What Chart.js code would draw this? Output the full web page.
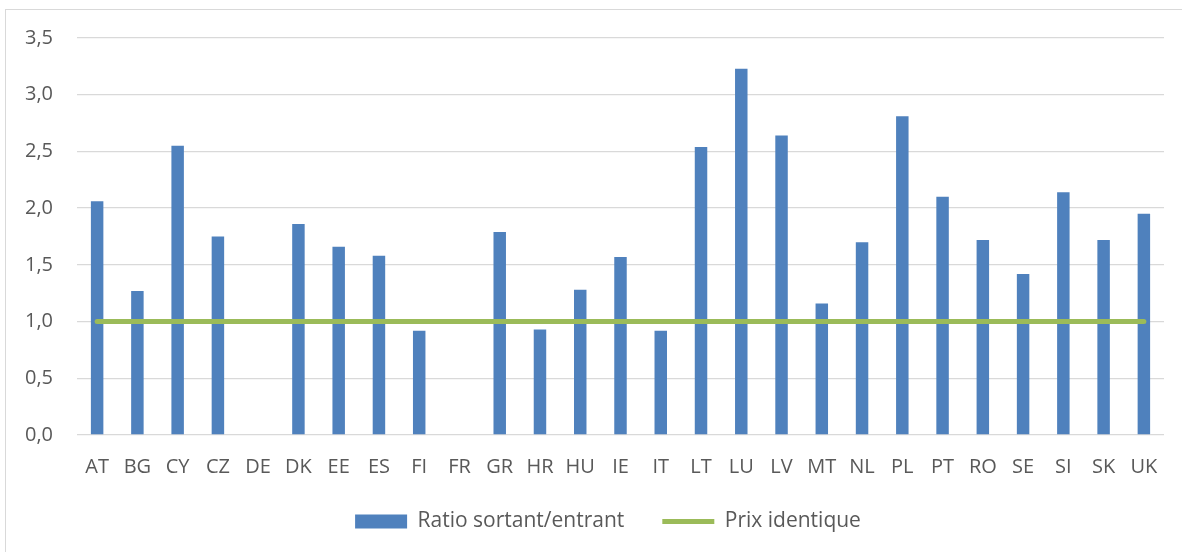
<!DOCTYPE html>
<html>
<head>
<meta charset="utf-8">
<script src="https://cdn.jsdelivr.net/npm/chart.js@4/dist/chart.umd.min.js"></script>
<style>
  html, body { margin: 0; padding: 0; background: #ffffff; }
  #wrap { position: relative; width: 1182px; height: 552px; overflow: hidden; }
  #frame { position: absolute; left: 5px; top: 9px; width: 1190px; height: 560px; border: 1px solid #d9d9d9; box-sizing: border-box; }
  #c { position: absolute; left: 0; top: 0; }
</style>
</head>
<body>
<div id="wrap">
  <div id="frame"></div>
  <canvas id="c" width="1182" height="552"></canvas>
</div>
<script>
const countries = ["AT","BG","CY","CZ","DE","DK","EE","ES","FI","FR","GR","HR","HU","IE","IT","LT","LU","LV","MT","NL","PL","PT","RO","SE","SI","SK","UK"];
const ratioValues = [2.06,1.27,2.55,1.75,null,1.86,1.66,1.58,0.92,null,1.79,0.93,1.28,1.57,0.92,2.54,3.23,2.64,1.16,1.70,2.81,2.10,1.72,1.42,2.14,1.72,1.95];
const identicalPrice = [1,1,1,1,1,1,1,1,1,1,1,1,1,1,1,1,1,1,1,1,1,1,1,1,1,1,1];
const yTickValues = [0,0.5,1,1.5,2,2.5,3,3.5];
const seriesNames = ["Ratio sortant/entrant","Prix identique"];

const textColor = '#595959';
const fontFamily = "'Open Sans', 'Liberation Sans', sans-serif";

const shiftLegend = {
  id: 'shiftLegend',
  afterLayout(chart) {
    const lg = chart.legend;
    if (lg) {
      lg.left += 26; lg.right += 26;
      lg.top -= 10; lg.bottom -= 10;
    }
  }
};

new Chart(document.getElementById('c'), {
  type: 'bar',
  plugins: [shiftLegend],
  data: {
    labels: countries,
    datasets: [
      {
        label: seriesNames[0],
        data: ratioValues,
        backgroundColor: '#4f81bd',
        borderWidth: 0,
        barPercentage: 0.31,
        categoryPercentage: 1,
        pointStyle: 'rect',
        order: 1
      },
      {
        type: 'line',
        label: seriesNames[1],
        data: identicalPrice,
        borderColor: '#9bbb59',
        backgroundColor: '#9bbb59',
        borderWidth: 5,
        borderCapStyle: 'round',
        pointRadius: 0,
        pointHoverRadius: 0,
        pointStyle: 'line',
        fill: false,
        order: 0
      }
    ]
  },
  options: {
    responsive: false,
    animation: false,
    devicePixelRatio: 1,
    layout: { padding: { top: 38, right: 18, bottom: 0, left: 0 } },
    plugins: {
      tooltip: { enabled: false },
      legend: {
        position: 'bottom',
        labels: {
          usePointStyle: true,
          pointStyleWidth: 52,
          boxHeight: 14,
          padding: 38,
          color: textColor,
          font: { family: fontFamily, size: 21 },
          sort: (a, b) => a.datasetIndex - b.datasetIndex
        }
      }
    },
    scales: {
      x: {
        grid: { display: false, drawTicks: false },
        border: { display: false },
        ticks: { color: textColor, font: { family: fontFamily, size: 20 }, padding: 20, autoSkip: false, maxRotation: 0 },
        afterFit: (s) => { s.height = 48; }
      },
      y: {
        min: 0,
        max: 3.5,
        afterBuildTicks: (s) => { s.ticks = yTickValues.map(v => ({ value: v })); },
        grid: { color: '#d9d9d9', lineWidth: 1.3, drawTicks: false },
        border: { display: false },
        ticks: {
          color: textColor,
          font: { family: fontFamily, size: 20 },
          padding: 24,
          callback: (v) => Number(v).toFixed(1).replace('.', ',')
        },
        afterFit: (s) => { s.width = 77; }
      }
    }
  }
});
</script>
</body>
</html>
